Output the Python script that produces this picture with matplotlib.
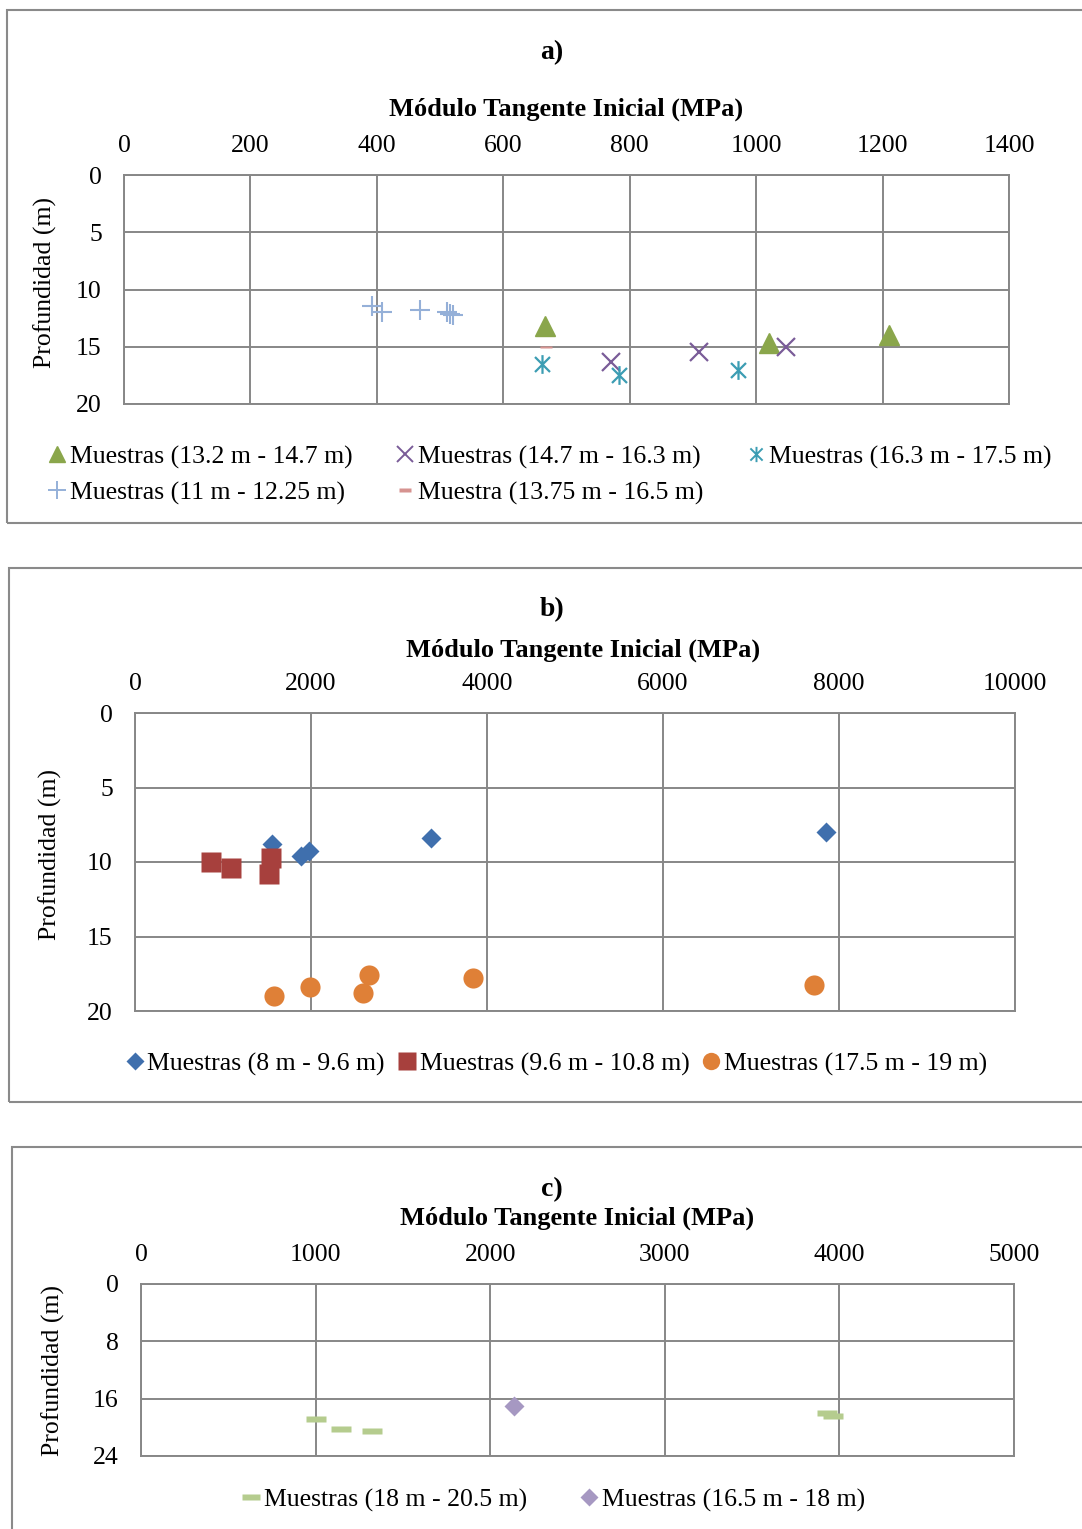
import matplotlib
matplotlib.use("Agg")
import matplotlib.pyplot as plt
from matplotlib.path import Path
from matplotlib.patches import Rectangle
from matplotlib.lines import Line2D

plt.rcParams['font.family'] = ['Liberation Serif', 'DejaVu Serif']

# ---------------- data ----------------
# a) Modulo tangente inicial (MPa) vs profundidad (m)
a_tri_x = [666, 1020, 1210]
a_tri_y = [13.2, 14.7, 14.0]
a_x_x = [770, 909, 1047]
a_x_y = [16.3, 15.5, 15.0]
a_star_x = [662, 783, 972]
a_star_y = [16.5, 17.5, 17.0]
a_plus_x = [392, 408, 469, 511, 516, 520]
a_plus_y = [11.45, 11.95, 11.75, 12.0, 12.1, 12.2]
a_dash_x = [667]
a_dash_y = [15.0]
a_labels = ["Muestras (13.2 m - 14.7 m)", "Muestras (14.7 m - 16.3 m)",
            "Muestras (16.3 m - 17.5 m)", "Muestras (11 m - 12.25 m)",
            "Muestra (13.75 m - 16.5 m)"]
a_xticks = [0, 200, 400, 600, 800, 1000, 1200, 1400]
a_yticks = [0, 5, 10, 15, 20]

# b)
b_dia_x = [1553, 1883, 1977, 3364, 7852]
b_dia_y = [8.8, 9.6, 9.25, 8.4, 8.0]
b_sq_x = [864, 1091, 1545, 1523]
b_sq_y = [10.0, 10.4, 9.7, 10.8]
b_circ_x = [1580, 1992, 2655, 2595, 3841, 7716]
b_circ_y = [19.0, 18.4, 17.6, 18.8, 17.8, 18.25]
b_labels = ["Muestras (8 m - 9.6 m)", "Muestras (9.6 m - 10.8 m)",
            "Muestras (17.5 m - 19 m)"]
b_xticks = [0, 2000, 4000, 6000, 8000, 10000]
b_yticks = [0, 5, 10, 15, 20]

# c)
c_dash_x = [1002, 1145, 1325, 3927, 3961]
c_dash_y = [18.85, 20.3, 20.55, 18.05, 18.4]
c_dia_x = [2136]
c_dia_y = [17.0]
c_labels = ["Muestras (18 m - 20.5 m)", "Muestras (16.5 m - 18 m)"]
c_xticks = [0, 1000, 2000, 3000, 4000, 5000]
c_yticks = [0, 8, 16, 24]

W, H = 1082, 1529
fig = plt.figure(figsize=(W / 100, H / 100), dpi=100)

GRID = '#878787'
FS = 18.5


def fx(px):
    return px / W


def fy(py):
    return 1 - py / H


def frame(x0, y0, x1, y1):
    fig.patches.append(Rectangle((fx(x0), fy(y1)), fx(x1) - fx(x0), fy(y0) - fy(y1),
                                 transform=fig.transFigure, fill=False,
                                 edgecolor='#8a8a8a', linewidth=1.5))


def make_axes(l, t, r, b, xticks, yticks):
    ax = fig.add_axes([fx(l), fy(b), fx(r) - fx(l), fy(t) - fy(b)])
    ax.set_xlim(xticks[0], xticks[-1])
    ax.set_ylim(yticks[-1], yticks[0])
    ax.set_xticks(xticks)
    ax.set_yticks(yticks)
    ax.xaxis.tick_top()
    ax.tick_params(length=0, labelsize=FS)
    ax.tick_params(axis='x', pad=13)
    ax.tick_params(axis='y', pad=16)
    ax.grid(True, color=GRID, linewidth=1.4)
    for s in ax.spines.values():
        s.set_color(GRID)
        s.set_linewidth(1.4)
    ax.set_axisbelow(True)
    return ax


# custom markers
star = Path([(-1, -1), (1, 1), (-1, 1), (1, -1), (0, -1.25), (0, 1.25)],
            [Path.MOVETO, Path.LINETO, Path.MOVETO, Path.LINETO, Path.MOVETO, Path.LINETO])
dash_a = Path([(-1, -0.25), (1, -0.25), (1, 0.25), (-1, 0.25), (-1, -0.25)],
              [Path.MOVETO, Path.LINETO, Path.LINETO, Path.LINETO, Path.CLOSEPOLY])
dash_c = Path([(-1, -0.28), (1, -0.28), (1, 0.28), (-1, 0.28), (-1, -0.28)],
              [Path.MOVETO, Path.LINETO, Path.LINETO, Path.LINETO, Path.CLOSEPOLY])

# ---------------- panel a ----------------
frame(7, 10, 1095, 523)
axa = make_axes(124, 175, 1009, 404, a_xticks, a_yticks)
c_tri, c_x, c_star, c_plus, c_dash = '#8AA64B', '#7A5C98', '#3C9DB3', '#95B0D8', '#D69390'
axa.plot(a_tri_x, a_tri_y, ls='none', marker='^', ms=15, color=c_tri, mec=c_tri)
axa.plot(a_x_x, a_x_y, ls='none', marker='x', ms=13.5, mew=1.6, color=c_x)
axa.plot(a_star_x, a_star_y, ls='none', marker=star, ms=13.5, mew=1.6,
         color=c_star, mfc='none')
axa.plot(a_plus_x, a_plus_y, ls='none', marker='+', ms=14, mew=1.5, color=c_plus)
axa.plot(a_dash_x, a_dash_y, ls='none', marker=dash_a, ms=8, color=c_dash, mec='none')
fig.text(fx(552), fy(53), "a)", ha='center', va='center', fontsize=20, fontweight='bold')
fig.text(fx(566), fy(109), "Módulo Tangente Inicial (MPa)", ha='center', va='center',
         fontsize=19, fontweight='bold')
fig.text(fx(45), fy(283), "Profundidad (m)", ha='center', va='center', rotation=90,
         fontsize=FS)

la = [Line2D([], [], ls='none', marker='^', ms=11, color=c_tri),
      Line2D([], [], ls='none', marker='+', ms=13, mew=1.4, color=c_plus),
      Line2D([], [], ls='none', marker='x', ms=11, mew=1.4, color=c_x),
      Line2D([], [], ls='none', marker=dash_a, ms=9, color=c_dash, mec='none'),
      Line2D([], [], ls='none', marker=star, ms=11, mew=1.4, color=c_star, mfc='none')]
fig.legend(la, [a_labels[0], a_labels[3], a_labels[1], a_labels[4], a_labels[2]],
           loc='center', bbox_to_anchor=(fx(550), fy(475)), ncol=3, frameon=False,
           fontsize=FS, handlelength=0.6, handletextpad=0.2, columnspacing=1.75,
           labelspacing=0.5, borderaxespad=0)

# ---------------- panel b ----------------
frame(9, 568, 1095, 1102)
axb = make_axes(135, 713, 1015, 1011, b_xticks, b_yticks)
c_dia, c_sq, c_circ = '#3F6FAD', '#A7403D', '#DF8037'
axb.plot(b_dia_x, b_dia_y, ls='none', marker='D', ms=10.5, color=c_dia, mec='none')
axb.plot(b_sq_x, b_sq_y, ls='none', marker='s', ms=14.5, color=c_sq, mec='none')
axb.plot(b_circ_x, b_circ_y, ls='none', marker='o', ms=14.5, color=c_circ, mec='none')
fig.text(fx(552), fy(610), "b)", ha='center', va='center', fontsize=20, fontweight='bold')
fig.text(fx(583), fy(650), "Módulo Tangente Inicial (MPa)", ha='center', va='center',
         fontsize=19, fontweight='bold')
fig.text(fx(50), fy(855), "Profundidad (m)", ha='center', va='center', rotation=90,
         fontsize=FS)
lb = [Line2D([], [], ls='none', marker='D', ms=9, color=c_dia, mec='none'),
      Line2D([], [], ls='none', marker='s', ms=12.5, color=c_sq, mec='none'),
      Line2D([], [], ls='none', marker='o', ms=12.5, color=c_circ, mec='none')]
fig.legend(lb, b_labels, loc='center', bbox_to_anchor=(fx(557), fy(1064)), ncol=3,
           frameon=False, fontsize=FS, handlelength=0.6, handletextpad=0.2,
           columnspacing=0.55, borderaxespad=0)

# ---------------- panel c ----------------
frame(12, 1147, 1095, 1560)
axc = make_axes(141, 1284, 1014, 1456, c_xticks, c_yticks)
c_gdash, c_ldia = '#B5CC8E', '#A698C2'
axc.plot(c_dash_x, c_dash_y, ls='none', marker=dash_c, ms=14.5, color=c_gdash, mec='none')
axc.plot(c_dia_x, c_dia_y, ls='none', marker='D', ms=10.5, color=c_ldia, mec='none')
fig.text(fx(552), fy(1190), "c)", ha='center', va='center', fontsize=20, fontweight='bold')
fig.text(fx(577), fy(1218), "Módulo Tangente Inicial (MPa)", ha='center', va='center',
         fontsize=19, fontweight='bold')
fig.text(fx(53), fy(1370), "Profundidad (m)", ha='center', va='center', rotation=90,
         fontsize=FS)
lc = [Line2D([], [], ls='none', marker=dash_c, ms=13, color=c_gdash, mec='none'),
      Line2D([], [], ls='none', marker='D', ms=9, color=c_ldia, mec='none')]
fig.legend(lc, c_labels, loc='center', bbox_to_anchor=(fx(554), fy(1500)), ncol=2,
           frameon=False, fontsize=FS, handlelength=0.6, handletextpad=0.2,
           columnspacing=2.1, borderaxespad=0)

fig.savefig("out.png", dpi=100)
